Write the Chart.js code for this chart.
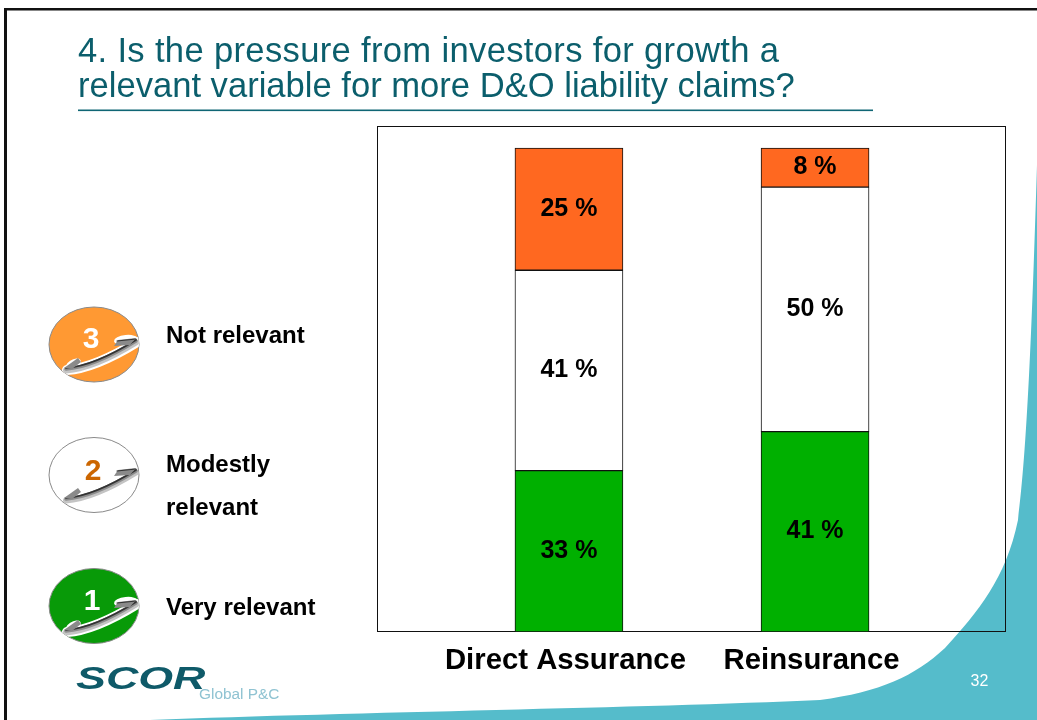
<!DOCTYPE html>
<html>
<head>
<meta charset="utf-8">
<style>html,body{margin:0;padding:0;background:#fff;overflow:hidden}canvas{display:block}</style>
<script src="https://cdn.jsdelivr.net/npm/chart.js@4"></script>
</head>
<body>
<canvas id="c" width="1037" height="720"></canvas>
<script>
const categories = ['Direct Assurance', 'Reinsurance'];
const categoryPositions = [1, 2];
const seriesNames = ['Very relevant', 'Modestly relevant', 'Not relevant'];
const veryRelevant = [33, 41];
const modestlyRelevant = [41, 50];
const notRelevant = [25, 8];
const seriesColors = ['#00B000', '#FFFFFF', '#FF6820'];
const titleLines = ['4. Is the pressure from investors for growth a', 'relevant variable for more D&O liability claims?'];
const pageNumber = '32';
const FONT = '"Liberation Sans", Arial, sans-serif';

function toPoints(values) { return values.map((v, i) => ({ x: categoryPositions[i], y: v })); }

function phone(ctx, halo) {
  const path = () => {
    ctx.beginPath();
    ctx.moveTo(66, 368);
    ctx.quadraticCurveTo(94, 366, 136, 340);
  };
  ctx.save();
  ctx.lineCap = 'round';
  if (halo) {
    ctx.strokeStyle = '#fff'; ctx.lineWidth = 10;
    ctx.save(); ctx.translate(1, 2); path(); ctx.stroke(); ctx.restore();
    ctx.fillStyle = '#fff';
    ctx.beginPath(); ctx.ellipse(126, 340, 12, 5, -0.1, 0, Math.PI * 2); ctx.fill();
    ctx.beginPath(); ctx.ellipse(73, 365, 9, 5, -0.6, 0, Math.PI * 2); ctx.fill();
  }
  ctx.strokeStyle = '#c4c4c4'; ctx.lineWidth = 6;
  ctx.save(); ctx.translate(0, 2.5); path(); ctx.stroke(); ctx.restore();
  ctx.strokeStyle = '#8c8c8c'; ctx.lineWidth = 3.5;
  ctx.save(); ctx.translate(0, 1); path(); ctx.stroke(); ctx.restore();
  ctx.strokeStyle = '#333'; ctx.lineWidth = 1.8;
  path(); ctx.stroke();
  ctx.fillStyle = '#8a8a8a';
  ctx.beginPath(); ctx.moveTo(64, 368); ctx.lineTo(78, 358); ctx.lineTo(81, 362); ctx.lineTo(72, 369); ctx.closePath(); ctx.fill();
  ctx.beginPath(); ctx.moveTo(114, 346); ctx.lineTo(118, 340); ctx.lineTo(136, 338); ctx.lineTo(130, 345); ctx.closePath(); ctx.fill();
  ctx.strokeStyle = '#333'; ctx.lineWidth = 1.2;
  ctx.beginPath(); ctx.moveTo(117, 341); ctx.lineTo(136, 339); ctx.stroke();
  ctx.restore();
}

const legendItems = [
  { cy: 344.5, fill: '#FF9933', num: '3', numColor: '#FFFFFF', numX: 91, numY: 340, halo: true, dy: 0, lines: [['Not relevant', 336]] },
  { cy: 475, fill: '#FFFFFF', num: '2', numColor: '#CC6600', numX: 93, numY: 472, halo: false, dy: 130, lines: [['Modestly', 465], ['relevant', 508]] },
  { cy: 606, fill: '#089A08', num: '1', numColor: '#FFFFFF', numX: 92, numY: 602, halo: true, dy: 262, lines: [['Very relevant', 608]] }
];

const slideDecor = {
  id: 'slideDecor',
  beforeDraw(chart) {
    const ctx = chart.ctx;
    ctx.save();
    ctx.fillStyle = '#fff';
    ctx.fillRect(0, 0, 1037, 720);
    // teal swoosh
    ctx.fillStyle = '#55BCCB';
    ctx.beginPath();
    ctx.moveTo(1037, 165);
    ctx.bezierCurveTo(1032, 330, 1027, 450, 1018, 520);
    ctx.bezierCurveTo(1006, 578, 978, 612, 945, 648);
    ctx.bezierCurveTo(915, 676, 880, 692, 820, 700);
    ctx.bezierCurveTo(640, 708, 360, 712, 150, 720);
    ctx.lineTo(1037, 720);
    ctx.closePath();
    ctx.fill();
    // slide frame
    ctx.fillStyle = '#111';
    ctx.fillRect(4, 8, 1033, 2.5);
    ctx.fillRect(4, 8, 3, 712);
    // title
    ctx.fillStyle = '#0B5E6C';
    ctx.font = '34.6px ' + FONT;
    ctx.textAlign = 'left';
    ctx.textBaseline = 'alphabetic';
    ctx.letterSpacing = '0.33px';
    ctx.fillText(titleLines[0], 78, 62);
    ctx.letterSpacing = '0px';
    ctx.fillText(titleLines[1], 78, 97);
    ctx.fillStyle = '#0F6674';
    ctx.fillRect(78, 109.5, 795, 1.6);
    ctx.restore();
  },
  beforeDatasetsDraw(chart) {
    const { ctx, chartArea: a } = chart;
    ctx.save();
    ctx.strokeStyle = '#111';
    ctx.lineWidth = 1;
    ctx.strokeRect(a.left + 0.5, a.top + 0.5, a.right - a.left - 1, a.bottom - a.top - 1);
    ctx.restore();
  },
  afterDraw(chart) {
    const ctx = chart.ctx;
    ctx.save();
    // value labels
    ctx.fillStyle = '#000';
    ctx.font = 'bold 25px ' + FONT;
    ctx.textAlign = 'center';
    ctx.textBaseline = 'middle';
    chart.data.datasets.forEach((ds, i) => {
      chart.getDatasetMeta(i).data.forEach((bar, j) => {
        ctx.fillText(ds.data[j].y + ' %', bar.x, (bar.y + bar.base) / 2 - 0.5);
      });
    });
    // legend
    legendItems.forEach(it => {
      ctx.save();
      ctx.beginPath();
      ctx.ellipse(94, it.cy, 45, 37.5, 0, 0, Math.PI * 2);
      ctx.fillStyle = it.fill;
      ctx.fill();
      ctx.strokeStyle = '#8a8a8a';
      ctx.lineWidth = 1;
      ctx.stroke();
      ctx.clip();
      ctx.translate(0, it.dy);
      phone(ctx, it.halo);
      ctx.restore();
      ctx.fillStyle = it.numColor;
      ctx.font = 'bold 30px ' + FONT;
      ctx.textAlign = 'center';
      ctx.textBaseline = 'middle';
      ctx.fillText(it.num, it.numX, it.numY);
      ctx.fillStyle = '#000';
      ctx.font = 'bold 24px ' + FONT;
      ctx.textAlign = 'left';
      it.lines.forEach(l => ctx.fillText(l[0], 166, l[1]));
    });
    // logo
    ctx.save();
    ctx.fillStyle = '#0F5A69';
    ctx.font = 'italic bold 40px ' + FONT;
    ctx.textAlign = 'left';
    ctx.textBaseline = 'alphabetic';
    ctx.translate(76, 689);
    ctx.scale(1.12, 0.78);
    ctx.fillText('SCOR', 0, 0);
    ctx.restore();
    ctx.fillStyle = '#8FC3D2';
    ctx.font = '15.4px ' + FONT;
    ctx.textAlign = 'left';
    ctx.textBaseline = 'alphabetic';
    ctx.fillText('Global P&C', 199, 699);
    // page number
    ctx.fillStyle = '#fff';
    ctx.font = '16px ' + FONT;
    ctx.textAlign = 'center';
    ctx.textBaseline = 'middle';
    ctx.fillText(pageNumber, 979.5, 681.5);
    ctx.restore();
  }
};

new Chart(document.getElementById('c'), {
  type: 'bar',
  data: {
    datasets: [veryRelevant, modestlyRelevant, notRelevant].map((vals, i) => ({
      label: seriesNames[i],
      data: toPoints(vals),
      backgroundColor: seriesColors[i],
      borderColor: '#111',
      borderWidth: 1,
      borderSkipped: false,
      barThickness: 108
    }))
  },
  options: {
    responsive: false,
    animation: false,
    layout: { padding: { left: 377, right: 31, top: 126, bottom: 0 } },
    plugins: { legend: { display: false }, title: { display: false }, tooltip: { enabled: false } },
    scales: {
      x: {
        type: 'linear',
        stacked: true,
        offset: false,
        min: 0.22,
        max: 2.776,
        afterBuildTicks(scale) { scale.ticks = categoryPositions.map(v => ({ value: v })); },
        afterFit(scale) { scale.height = 88; },
        grid: { display: false, drawTicks: false },
        border: { display: false },
        ticks: {
          autoSkip: false,
          maxRotation: 0,
          padding: 11,
          labelOffset: -3.5,
          color: '#000',
          font: { family: FONT, size: 29.3, weight: 'bold' },
          callback(v) { return categories[categoryPositions.indexOf(v)] ?? ''; }
        }
      },
      y: {
        display: false,
        stacked: true,
        min: 0,
        max: 103.5
      }
    }
  },
  plugins: [slideDecor]
});
</script>
</body>
</html>
